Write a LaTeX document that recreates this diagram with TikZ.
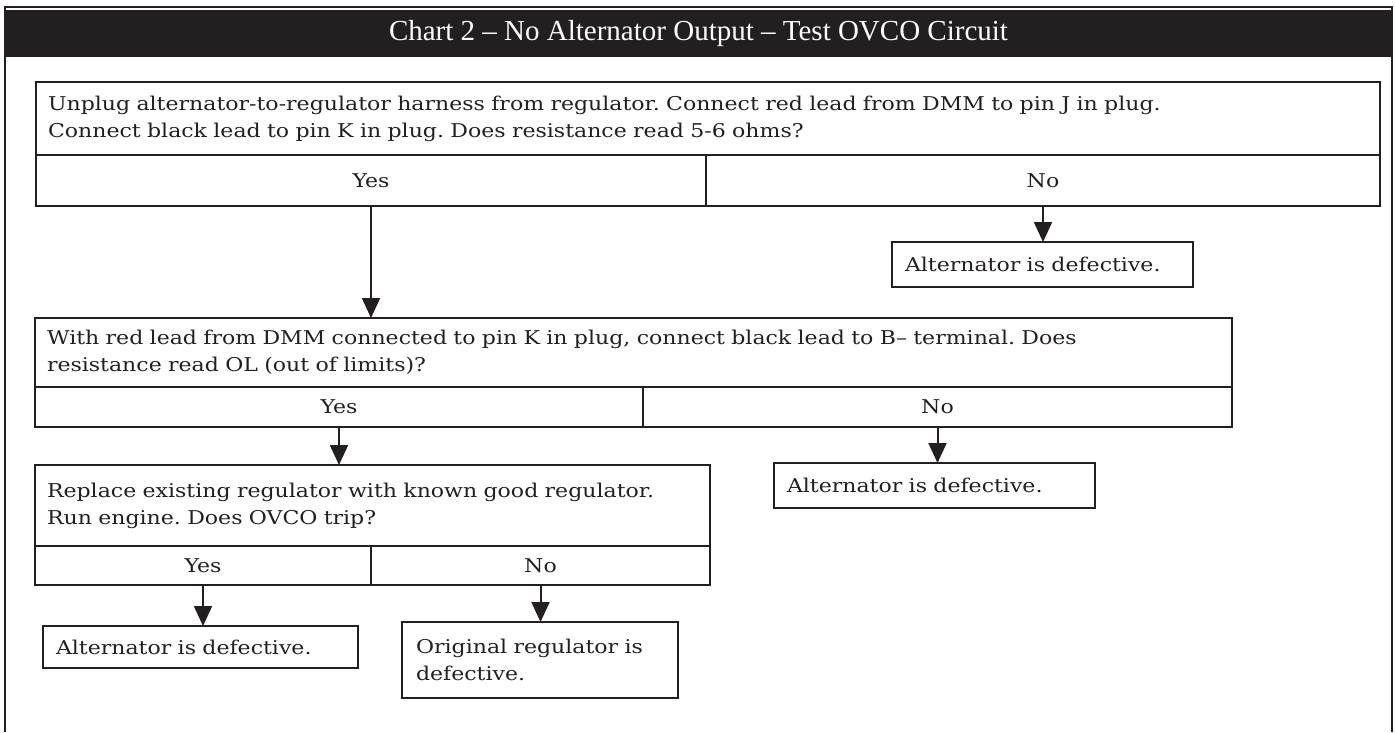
\documentclass[tikz,border=0pt]{standalone}
\usepackage{fontspec}
\usetikzlibrary{arrows.meta}
\newfontfamily\bodyfont[FakeStretch=1.16,WordSpace=1.5]{DejaVu Serif}
\newfontfamily\headfont{Liberation Serif}
\definecolor{ink}{HTML}{231F20}
\tikzset{
  box/.style={draw=ink, line width=2.2pt, inner sep=0pt, outer sep=0pt, anchor=north west,
    font=\bodyfont\fontsize{19}{27}\selectfont\frenchspacing, text=ink},
  qbox/.style={box, align=left, inner xsep=12pt},
  cell/.style={box, align=center},
  conn/.style={draw=ink, line width=2pt, -{Triangle[width=18pt,length=20pt]}},
}
\begin{document}
\begin{tikzpicture}[x=1pt,y=-1pt]
\useasboundingbox (0,0) rectangle (1395,732);
% frame and header
\draw[ink, line width=1.8pt] (5,732) -- (5,7) -- (1392,7) -- (1392,732);
\node[fill=ink, text=white, inner sep=0pt, outer sep=0pt, anchor=north west,
  minimum width=1387pt, minimum height=47.5pt,
  font=\headfont\fontsize{29}{32}\selectfont] (header) at (5,9.5)
  {Chart 2 – No Alternator Output – Test OVCO Circuit};
% box 1
\node[qbox, text width=1320pt, minimum height=73pt] (q1) at (36,82)
  {Unplug alternator-to-regulator harness from regulator. Connect red lead from DMM to pin J in plug.\\
   Connect black lead to pin K in plug. Does resistance read 5-6 ohms?};
\node[cell, minimum width=670pt, minimum height=51pt] (y1) at (36,155) {Yes};
\node[cell, minimum width=674pt, minimum height=51pt] (n1) at (706,155) {No};
\node[qbox, text width=275pt, minimum height=45pt, inner xsep=13pt] (a1) at (892,242)
  {Alternator is defective.};
% box 2
\node[qbox, text width=1173pt, minimum height=69pt] (q2) at (35,318)
  {With red lead from DMM connected to pin K in plug, connect black lead to B– terminal. Does\\
   resistance read OL (out of limits)?};
\node[cell, minimum width=608pt, minimum height=40pt] (y2) at (35,387) {Yes};
\node[cell, minimum width=589pt, minimum height=40pt] (n2) at (643,387) {No};
\node[qbox, text width=295pt, minimum height=45pt, inner xsep=13pt] (a2) at (774,463)
  {Alternator is defective.};
% box 3
\node[qbox, text width=651pt, minimum height=81pt] (q3) at (35,465)
  {Replace existing regulator with known good regulator.\\
   Run engine. Does OVCO trip?};
\node[cell, minimum width=336pt, minimum height=39pt] (y3) at (35,546) {Yes};
\node[cell, minimum width=339pt, minimum height=39pt] (n3) at (371,546) {No};
\node[qbox, text width=289pt, minimum height=42pt, inner xsep=13pt] (a3) at (43,626)
  {Alternator is defective.};
\node[qbox, text width=248pt, minimum height=76pt, inner xsep=14pt] (o3) at (402,622)
  {Original regulator is\\ defective.};
% connectors
\draw[conn] (y1.south) -- (y1.south |- q2.north);
\draw[conn] (n1.south) -- (n1.south |- a1.north);
\draw[conn] (y2.south) -- (y2.south |- q3.north);
\draw[conn] (n2.south) -- (n2.south |- a2.north);
\draw[conn] (y3.south) -- (y3.south |- a3.north);
\draw[conn] (n3.south) -- (n3.south |- o3.north);
\end{tikzpicture}
\end{document}
